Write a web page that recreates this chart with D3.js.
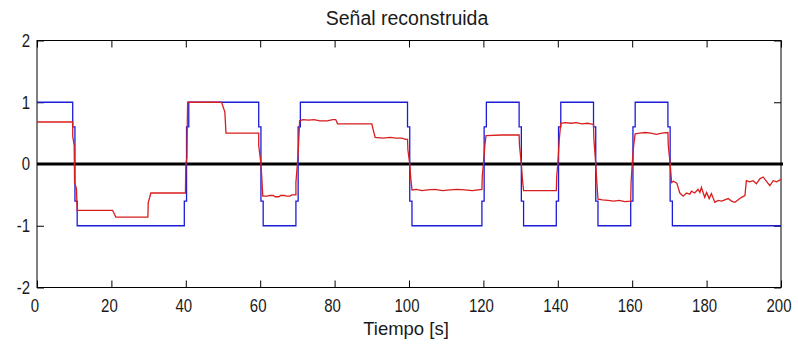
<!DOCTYPE html>
<html>
<head>
<meta charset="utf-8">
<script src="https://cdn.jsdelivr.net/npm/d3@7"></script>
<style>
  html, body { margin: 0; padding: 0; background: #fff; }
  svg { display: block; }
  text { font-family: "Liberation Sans", Arial, sans-serif; fill: #1a1a1a; }
</style>
</head>
<body>
<svg id="chart" width="798" height="347"></svg>
<script>
// ---- data ----
const title = "Señal reconstruida";
const xLabel = "Tiempo [s]";
const xTicks = [0, 20, 40, 60, 80, 100, 120, 140, 160, 180, 200];
const yTicks = [-2, -1, 0, 1, 2];
const xDomain = [0, 200];
const yDomain = [-2, 2];

// original square signal (blue) : [t, value]
const blueSignal = [
  [0,1],[9.6,1],[9.6,0.6],[10.2,0.6],[10.2,-0.6],[10.8,-0.6],[10.8,-1],
  [39.6,-1],[39.6,-0.6],[40.2,-0.6],[40.2,0.6],[40.8,0.6],[40.8,1],
  [59.6,1],[59.6,0.6],[60.2,0.6],[60.2,-0.6],[60.8,-0.6],[60.8,-1],
  [69.6,-1],[69.6,-0.6],[70.2,-0.6],[70.2,0.6],[70.8,0.6],[70.8,1],
  [99.6,1],[99.6,0.6],[100.2,0.6],[100.2,-0.6],[100.8,-0.6],[100.8,-1],
  [119.6,-1],[119.6,-0.6],[120.2,-0.6],[120.2,0.6],[120.8,0.6],[120.8,1],
  [129.6,1],[129.6,0.6],[130.2,0.6],[130.2,-0.6],[130.8,-0.6],[130.8,-1],
  [139.6,-1],[139.6,-0.6],[140.2,-0.6],[140.2,0.6],[140.8,0.6],[140.8,1],
  [149.6,1],[149.6,0.6],[150.2,0.6],[150.2,-0.6],[150.8,-0.6],[150.8,-1],
  [159.6,-1],[159.6,-0.6],[160.2,-0.6],[160.2,0.6],[160.8,0.6],[160.8,1],
  [169.6,1],[169.6,0.6],[170.2,0.6],[170.2,-0.6],[170.8,-0.6],[170.8,-1],
  [200,-1]
];

// reconstructed signal (red) : [t, value]
const redSignal = [
  [0,0.68],[9.6,0.68],[9.6,0.45],[10.0,0.3],[10.1,-0.3],[10.6,-0.4],[10.8,-0.75],
  [20.3,-0.75],[21.2,-0.86],[29.8,-0.86],[29.9,-0.63],[30.6,-0.47],
  [39.9,-0.47],[40.0,0.0],[40.3,0.1],[40.4,0.66],[40.5,1.0],
  [49.6,1.0],[50.5,0.84],[50.8,0.5],
  [59.6,0.5],[59.6,0.3],[60.2,0.0],[60.4,-0.2],[60.7,-0.52],
  [62,-0.52],[62.5,-0.51],[63.5,-0.51],[64,-0.53],[65,-0.53],[65.5,-0.51],[66.5,-0.51],[67,-0.52],[68,-0.52],[68.5,-0.50],[69.6,-0.50],
  [69.6,-0.3],[70.0,0.0],[70.3,0.3],[70.6,0.70],
  [71.5,0.72],[73,0.71],[74.5,0.72],[76,0.70],[78,0.70],[79.5,0.72],[80.3,0.72],[80.8,0.65],
  [90,0.65],[90.4,0.55],[90.9,0.43],[93,0.42],[95,0.43],[96.5,0.42],[98,0.42],[99.2,0.40],[99.6,0.40],
  [99.7,0.23],[100.2,0.0],[100.5,-0.25],[100.8,-0.42],
  [102,-0.41],[103.5,-0.43],[105,-0.42],[107,-0.41],[109,-0.43],[111,-0.42],[113,-0.41],[115,-0.42],[117,-0.43],[119.6,-0.41],
  [119.7,-0.2],[120.0,0.0],[120.4,0.3],[120.7,0.46],
  [125,0.47],[129.6,0.47],
  [129.7,0.3],[130.2,0.0],[130.5,-0.25],[130.8,-0.43],
  [139.6,-0.43],
  [139.7,-0.2],[140.0,0.0],[140.4,0.4],[140.8,0.66],
  [142,0.67],[143.5,0.66],[145,0.67],[146.5,0.65],[148,0.66],[149.6,0.64],
  [149.7,0.4],[150.2,0.0],[150.5,-0.3],[150.8,-0.57],
  [152,-0.58],[153.5,-0.59],[155,-0.60],[156.5,-0.59],[158,-0.61],[159.6,-0.60],
  [159.7,-0.3],[160.0,0.0],[160.4,0.3],[160.8,0.49],
  [162,0.50],[163.5,0.51],[165,0.50],[166.5,0.48],[168,0.50],[169.6,0.51],
  [169.7,0.3],[170.2,0.0],[170.6,-0.3],[171.1,-0.28],
  [172.0,-0.31],[172.8,-0.47],[173.7,-0.52],[174.6,-0.47],[175.5,-0.49],[175.9,-0.44],
  [176.8,-0.47],[177.7,-0.41],[178.2,-0.46],[178.6,-0.38],[179.5,-0.54],[180.0,-0.46],
  [180.7,-0.56],[181.3,-0.48],[182.2,-0.62],[183.1,-0.59],[184.0,-0.60],[184.9,-0.58],
  [185.8,-0.56],[186.7,-0.60],[187.6,-0.62],[188.5,-0.58],[189.4,-0.54],[190.3,-0.51],
  [190.7,-0.27],[191.6,-0.29],[192.5,-0.27],[193.4,-0.32],[194.3,-0.24],[195.2,-0.21],
  [196.1,-0.28],[197.0,-0.35],[197.9,-0.27],[198.8,-0.29],[200,-0.25]
];

// ---- layout ----
const svg = d3.select("#chart");
const mLeft = 37, mRight = 781, mTop = 40.5, mBottom = 287.5;
const x = d3.scaleLinear().domain(xDomain).range([mLeft, mRight]);
const y = d3.scaleLinear().domain(yDomain).range([mBottom, mTop]);
const tickLen = 7;
const fmt = d => String(d); // plain hyphen minus

// box
svg.append("rect")
  .attr("x", mLeft).attr("y", mTop)
  .attr("width", mRight - mLeft).attr("height", mBottom - mTop)
  .attr("fill", "#fff").attr("stroke", "#000").attr("stroke-width", 1);

// axes (inward ticks)
const axB = d3.axisBottom(x).tickValues(xTicks).tickSizeInner(-tickLen).tickSizeOuter(0).tickPadding(11).tickFormat(fmt);
const axT = d3.axisTop(x).tickValues(xTicks).tickSizeInner(-tickLen).tickSizeOuter(0).tickFormat("");
const axL = d3.axisLeft(y).tickValues(yTicks).tickSizeInner(-tickLen).tickSizeOuter(0).tickPadding(7).tickFormat(fmt);
const axR = d3.axisRight(y).tickValues(yTicks).tickSizeInner(-tickLen).tickSizeOuter(0).tickFormat("");

function style(g) {
  g.select(".domain").remove();
  g.selectAll(".tick line").attr("stroke", "#000");
  g.selectAll("text").attr("font-size", 18.5).attr("fill", "#1a1a1a")
    .each(function () {
      const w = this.getComputedTextLength();
      if (w > 0) d3.select(this).attr("textLength", w * 0.81).attr("lengthAdjust", "spacingAndGlyphs");
    });
}
svg.append("g").attr("transform", `translate(0,${mBottom})`).call(axB).call(style)
  .selectAll(".tick text").attr("dx", -2.5);
svg.append("g").attr("transform", `translate(0,${mTop})`).call(axT).call(style);
svg.append("g").attr("transform", `translate(${mLeft},0)`).call(axL).call(style);
svg.append("g").attr("transform", `translate(${mRight},0)`).call(axR).call(style);

const line = d3.line().x(d => x(d[0])).y(d => y(d[1]));

// zero line
svg.append("line")
  .attr("x1", x(xDomain[0])).attr("x2", x(xDomain[1]) + 2)
  .attr("y1", y(0)).attr("y2", y(0))
  .attr("stroke", "#000").attr("stroke-width", 3);

svg.append("path").datum(blueSignal)
  .attr("d", line).attr("fill", "none")
  .attr("stroke", "#1c1cd8").attr("stroke-width", 1.3);

svg.append("path").datum(redSignal)
  .attr("d", line).attr("fill", "none")
  .attr("stroke", "#d81e1e").attr("stroke-width", 1.3);

// title & label
svg.append("text").attr("x", 407).attr("y", 25)
  .attr("text-anchor", "middle").attr("font-size", 19.5)
  .text(title);
svg.append("text").attr("x", 406).attr("y", 335)
  .attr("text-anchor", "middle").attr("font-size", 18.5)
  .text(xLabel);
</script>
</body>
</html>
